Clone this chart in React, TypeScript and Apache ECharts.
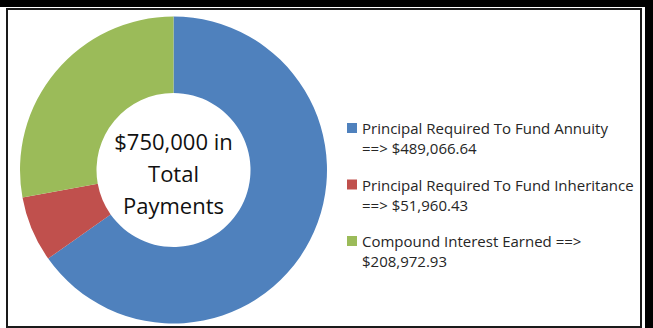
import React, { useEffect, useRef } from "react";
import * as echarts from "echarts";

const categories: string[] = [
  "Principal Required To Fund Annuity",
  "Principal Required To Fund Inheritance",
  "Compound Interest Earned",
];
const values: number[] = [489066.64, 51960.43, 208972.93];
const arrowOnSecondLine: boolean[] = [true, true, false];
const colors: string[] = ["#4F81BD", "#C0504D", "#9BBB59"];
const centerLines: string[] = ["$750,000 in", "Total", "Payments"];

const fmt = (v: number) =>
  "$" + v.toLocaleString("en-US", { minimumFractionDigits: 2, maximumFractionDigits: 2 });

export default function App() {
  const ref = useRef<HTMLDivElement>(null);
  useEffect(() => {
    document.body.style.margin = "0";
    if (!ref.current) return;
    const chart = echarts.init(ref.current, undefined, { renderer: "svg" });
    const legendText = (name: string) => {
      const i = categories.indexOf(name);
      const v = fmt(values[i]);
      // leading blank line keeps the marker level with the first text line
      return arrowOnSecondLine[i] ? ` \n${name}\n==> ${v}` : ` \n${name} ==>\n${v}`;
    };
    chart.setOption({
      animation: false,
      backgroundColor: "#ffffff",
      color: colors,
      legend: {
        orient: "vertical",
        left: 347,
        top: 98,
        padding: 0,
        itemWidth: 10,
        itemHeight: 10,
        itemGap: -3.5,
        icon: "rect",
        selectedMode: false,
        formatter: legendText,
        textStyle: {
          fontFamily: "Open Sans",
          fontSize: 15,
          color: "#262626",
          lineHeight: 20,
        },
        data: categories,
      },
      graphic: [
        { type: "rect", shape: { x: 0, y: 0, width: 653, height: 7 }, style: { fill: "#000" }, silent: true },
        { type: "rect", shape: { x: 645, y: 0, width: 8, height: 328 }, style: { fill: "#000" }, silent: true },
        {
          type: "rect",
          shape: { x: 7, y: 9, width: 634, height: 318 },
          style: { fill: "none", stroke: "#1a1a1a", lineWidth: 2 },
          silent: true,
        },
        {
          type: "text",
          x: 173.5,
          y: 173,
          style: {
            text: centerLines.join("\n"),
            fontFamily: "Open Sans",
            fontSize: 22,
            lineHeight: 32,
            fill: "#111",
            align: "center",
            verticalAlign: "middle",
            textAlign: "center",
            textVerticalAlign: "middle",
          },
          silent: true,
        },
      ],
      series: [
        {
          type: "pie",
          center: [173.5, 170],
          radius: [77, 153.5],
          startAngle: 90,
          clockwise: true,
          label: { show: false },
          labelLine: { show: false },
          emphasis: { disabled: true },
          itemStyle: { borderWidth: 0 },
          data: categories.map((name, i) => ({ name, value: values[i] })),
        },
      ],
    });
    return () => chart.dispose();
  }, []);
  return (
    <div
      ref={ref}
      style={{ position: "absolute", left: 0, top: 0, width: 653, height: 328, background: "#fff" }}
    />
  );
}
